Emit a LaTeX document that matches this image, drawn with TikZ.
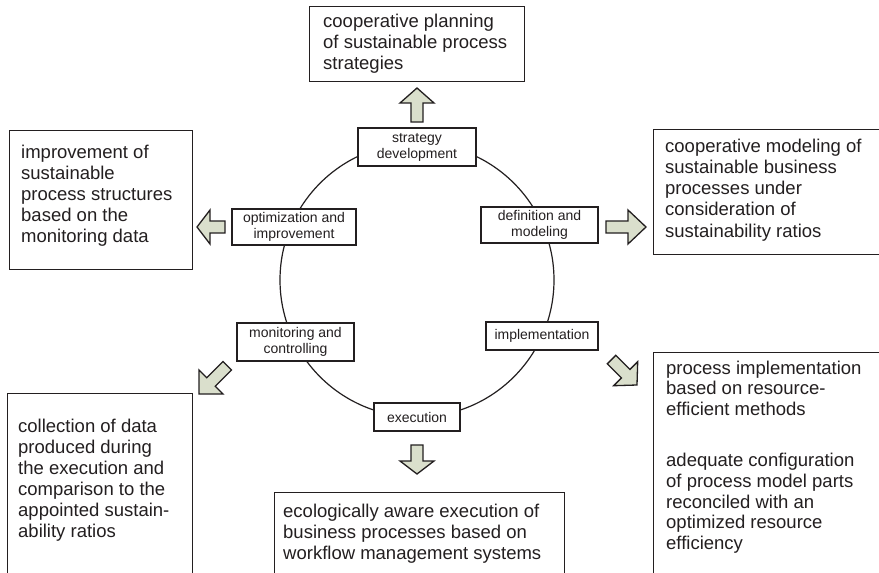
\documentclass[tikz,border=0pt]{standalone}
\usepackage{fontspec}
\setmainfont{Liberation Sans}
\definecolor{arrowfill}{RGB}{218,223,204}
\definecolor{ink}{RGB}{35,31,32}
\tikzset{
 box/.style={draw=ink, line width=1.4pt, inner sep=0pt, anchor=north west},
 lbl/.style={draw=ink, fill=white, line width=1.3pt, inner sep=0pt, align=center,
   font=\fontsize{14}{16}\selectfont, text=ink},
 bigtext/.style={anchor=base west, inner sep=0pt, text=ink, font=\fontsize{18.5}{21}\selectfont},
 blockarrow/.style={draw=ink, fill=arrowfill, line width=1.3pt, line join=miter},
 ring/.style={draw=ink, line width=1.2pt}
}
\newcommand\blockarrow[5]{%
  \draw[blockarrow, shift={(#1,#2)}, rotate=#3] (0,0) -- (-#5,17) -- (-#5,6) -- (-#4,6)
    -- (-#4,-6) -- (-#5,-6) -- (-#5,-17) -- cycle;}
\begin{document}
\begin{tikzpicture}[x=1pt,y=-1pt]
\useasboundingbox (0,0) rectangle (879,573);
\clip (0,0) rectangle (879,573);
\fill[white] (0,0) rectangle (879,573);

% outer boxes
\node[box, minimum width=215, minimum height=75] (topbox) at (309,6) {};
\node[box, minimum width=183, minimum height=139] (leftbox) at (9,130) {};
\node[box, minimum width=260, minimum height=125] (rightbox) at (653,129) {};
\node[box, minimum width=185, minimum height=200] (blbox) at (7,393) {};
\node[box, minimum width=290, minimum height=120] (botbox) at (274,492) {};
\node[box, minimum width=260, minimum height=260] (brbox) at (653,352) {};

% texts
\node[bigtext] (toptext) at (323,27) {\vtop{\hbox{cooperative planning}\hbox{of sustainable process}\hbox{strategies}}};
\node[bigtext] (lefttext) at (21,158) {\vtop{\hbox{improvement of}\hbox{sustainable}\hbox{process structures}\hbox{based on the}\hbox{monitoring data}}};
\node[bigtext] (righttext) at (665,152) {\vtop{\baselineskip=21.25pt\hbox{cooperative modeling of}\hbox{sustainable business}\hbox{processes under}\hbox{consideration of}\hbox{sustainability ratios}}};
\node[bigtext] (bltext) at (18,432) {\vtop{\hbox{collection of data}\hbox{produced during}\hbox{the execution and}\hbox{comparison to the}\hbox{appointed sustain-}\hbox{ability ratios}}};
\node[bigtext] (bottext) at (283,517) {\vtop{\hbox{ecologically aware execution of}\hbox{business processes based on}\hbox{workflow management systems}}};
\node[bigtext] (brtext) at (666,374) {\vtop{\baselineskip=20.6pt\hbox{process implementation}\hbox{based on resource-}\hbox{efficient methods}\vskip31pt\hbox{adequate configuration}\hbox{of process model parts}\hbox{reconciled with an}\hbox{optimized resource}\hbox{efficiency}}};

% cycle
\draw[ring] (417,280) circle[radius=137];
\node[lbl, minimum width=118, minimum height=38] (strat) at (417,147) {strategy\\development};
\node[lbl, minimum width=117, minimum height=36] (defn) at (539.5,225) {definition and\\modeling};
\node[lbl, minimum width=112, minimum height=28] (impl) at (542,336) {implementation};
\node[lbl, minimum width=86, minimum height=28] (exec) at (417,417) {execution};
\node[lbl, minimum width=117, minimum height=38] (moni) at (295.5,342) {monitoring and\\controlling};
\node[lbl, minimum width=124, minimum height=36] (opti) at (294,227) {optimization and\\improvement};

% block arrows
\blockarrow{417}{88}{90}{34}{15}
\blockarrow{197}{227}{180}{28}{13}
\blockarrow{646}{227}{0}{40}{18}
\blockarrow{417}{474}{-90}{29}{13}
\blockarrow{199}{394}{-135}{40}{17}
\blockarrow{637}{385}{-45}{36}{16}
\end{tikzpicture}
\end{document}
